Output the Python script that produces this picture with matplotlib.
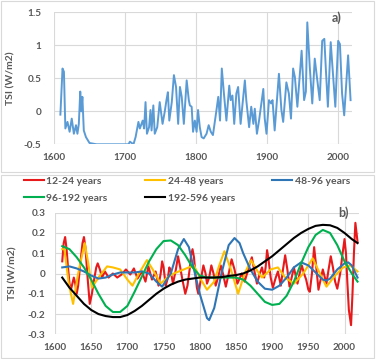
import matplotlib
matplotlib.use("Agg")
import matplotlib.pyplot as plt
from matplotlib.patches import Rectangle

plt.rcParams['font.family'] = ['Lato', 'DejaVu Sans']

# -----------------------------
# Data: panel a) TSI reconstruction
# -----------------------------
tsi_years = [1609, 1612, 1614, 1616, 1619, 1622, 1625, 1628, 1631, 1633, 1635, 1637, 1638.5, 1640,
             1642, 1645, 1650, 1660, 1680, 1705, 1707, 1712, 1715, 1719, 1721, 1725, 1727, 1729,
             1731, 1734, 1736, 1737.5, 1740, 1742, 1745.5, 1749, 1753, 1756, 1758.5, 1760.5, 1762.5,
             1766, 1769, 1772, 1775, 1777.5, 1780, 1783, 1787, 1790, 1791.5, 1794, 1796, 1798.5,
             1801, 1803, 1805.5, 1808, 1811, 1815, 1818, 1821, 1824, 1829, 1831.5, 1834, 1836.5,
             1839.5, 1843, 1847, 1849, 1851.5, 1854, 1857, 1859.5, 1863, 1869, 1871, 1875, 1878,
             1881, 1883, 1886, 1889, 1895, 1897, 1899.5, 1903, 1906, 1908, 1911, 1917, 1920.5,
             1923, 1927.5, 1931, 1934, 1937, 1939.5, 1943, 1949, 1952.5, 1955, 1957, 1960.5, 1964,
             1967.5, 1970, 1974.5, 1978, 1981, 1983, 1986, 1990, 1992.5, 1996.5, 2000.5, 2003,
             2006, 2009, 2014.5, 2018]
tsi_values = [-0.05, 0.65, 0.6, -0.26, -0.16, -0.31, -0.11, -0.34, -0.21, -0.34, -0.19, 0.30, 0.0, 0.22,
              -0.29, -0.39, -0.48, -0.5, -0.5, -0.5, -0.46, -0.5, -0.39, -0.16, -0.26, -0.14, -0.26, 0.14,
              -0.34, -0.24, 0.02, -0.29, 0.09, -0.34, -0.24, 0.14, -0.19, -0.01, 0.17, 0.29, -0.14,
              0.14, 0.55, 0.37, -0.19, 0.37, 0.22, -0.19, 0.47, 0.17, 0.09, 0.07, -0.31, -0.14,
              -0.31, 0.02, -0.24, -0.39, -0.41, -0.34, -0.21, -0.31, -0.36, 0.02, 0.22, -0.14, 0.65,
              0.27, -0.14, 0.39, 0.17, 0.24, -0.19, 0.27, 0.37, -0.19, 0.47, 0.17, -0.24, 0.07,
              -0.19, 0.04, -0.34, -0.14, 0.34, -0.11, -0.34, 0.17, 0.12, 0.17, -0.29, 0.57, 0.02,
              -0.16, 0.44, 0.27, -0.11, 0.65, 0.52, 0.07, 0.92, 0.17, 0.3, 1.35, 0.67, 0.12,
              0.8, 0.57, 0.17, 1.07, 1.1, 0.67, 0.07, 1.05, 0.67, 0.07, 1.07, 1.02,
              0.27, -0.06, 0.85, 0.17]

# -----------------------------
# Data: panel b) band components
# -----------------------------
red_years = [1610, 1612, 1614, 1616, 1618, 1620, 1622, 1624, 1626, 1628, 1630, 1632, 1635, 1638,
             1640, 1642, 1645, 1648, 1651, 1654, 1657, 1659, 1662, 1665, 1669,
             1674, 1680, 1686, 1692, 1698, 1704, 1709, 1714, 1720, 1725, 1729, 1734, 1739, 1743,
             1746, 1748, 1750, 1753, 1756, 1758, 1760, 1763, 1767, 1770, 1773, 1776, 1780, 1783,
             1786, 1788, 1790, 1792, 1794, 1796, 1798, 1801, 1805, 1808, 1810, 1813, 1816,
             1819, 1822, 1826, 1829, 1832, 1836, 1840, 1844, 1848, 1852, 1858, 1862, 1867, 1870,
             1872, 1875, 1879, 1883, 1886, 1889, 1891, 1893, 1895, 1898, 1901,
             1905, 1908, 1912, 1915, 1918, 1921, 1924, 1927, 1930, 1935, 1938, 1941, 1944, 1947,
             1950, 1952, 1955, 1958, 1961, 1964, 1967, 1970, 1975, 1978, 1981, 1984,
             1987, 1990, 1994, 1997, 2000, 2002, 2004, 2006, 2009, 2011, 2013, 2015, 2018]
red_values = [0.06, 0.15, 0.18, 0.12, 0.03, -0.05, -0.08, -0.05, -0.02, -0.05, -0.1, -0.06, 0.05, 0.15,
              0.18, 0.13, -0.02, -0.15, -0.1, -0.03, 0.03, 0.05, 0.02, -0.02, 0.01,
              -0.02, 0.0, -0.02, -0.005, 0.02, -0.005, 0.025, -0.025, 0.01, -0.04, 0.035, -0.03, 0.01, -0.06,
              0.0, 0.06, 0.03, -0.06, -0.02, 0.03, 0.01, -0.05, 0.02, 0.085, 0.03, -0.03, -0.1, -0.06,
              0.02, 0.09, 0.12, 0.08, 0.0, -0.07, -0.1, -0.04, 0.04, 0.0, -0.05, -0.02, 0.04,
              0.0, -0.06, -0.01, 0.04, 0.0, -0.065, 0.0, 0.07, 0.02, -0.05, 0.0, -0.04, 0.02, 0.06,
              0.08, 0.02, -0.05, 0.0, 0.03, -0.02, 0.03, 0.115, 0.07, -0.02, -0.07,
              -0.02, 0.01, -0.06, 0.02, 0.09, 0.02, -0.065, -0.02, 0.03, -0.05, 0.0, 0.04, 0.0, -0.03,
              -0.08, -0.09, 0.0, 0.13, 0.03, -0.08, -0.03, 0.02, -0.05, 0.02, 0.085, 0.03,
              -0.04, -0.075, 0.0, 0.09, 0.17, 0.1, -0.05, -0.18, -0.255, -0.1, 0.1, 0.25, 0.155]

orange_years = [1610, 1613, 1619, 1625, 1632, 1641, 1646, 1651, 1660, 1672, 1680, 1690, 1700, 1707,
                1716, 1727, 1735, 1746, 1755, 1764, 1778, 1792, 1800, 1810, 1820, 1826, 1834, 1843,
                1853, 1862, 1871, 1880, 1886, 1898, 1908, 1918, 1930, 1943, 1956, 1966, 1975, 1987,
                1998, 2008, 2018]
orange_values = [0.12, 0.12, -0.05, -0.15, 0.0, 0.15, 0.05, -0.07, -0.02, 0.035, 0.03, 0.02, -0.03, -0.06,
                 0.0, 0.066, 0.02, -0.05, -0.02, 0.0, 0.02, 0.04, -0.02, -0.08, -0.04, 0.03, 0.11, 0.02,
                 -0.1, 0.0, 0.066, 0.01, -0.02, 0.02, 0.03, -0.02, -0.05, 0.0, 0.075, 0.0, -0.065, -0.01,
                 0.03, 0.04, 0.01]

blue_years = [1610, 1620, 1630, 1640, 1650, 1660, 1670, 1680, 1690, 1700, 1710, 1720, 1730, 1740,
              1748, 1760, 1770, 1778, 1785, 1790, 1800, 1810, 1813, 1820, 1830, 1840, 1848, 1855,
              1860, 1870, 1880, 1890, 1900, 1910, 1920, 1930, 1940, 1950, 1960, 1970, 1975, 1980,
              1990, 2000, 2005, 2010, 2018]
blue_values = [0.03, 0.035, 0.025, 0.01, -0.01, -0.025, -0.02, -0.005, 0.005, 0.005, 0.005, 0.01, 0.0, -0.04,
               -0.065, 0.0, 0.12, 0.17, 0.13, 0.05, -0.1, -0.22, -0.23, -0.17, 0.0, 0.14, 0.175, 0.15,
               0.1, 0.02, -0.04, -0.075, -0.08, -0.06, -0.02, 0.03, 0.055, 0.04, 0.005, -0.03, -0.035, -0.025,
               0.02, 0.05, 0.055, 0.04, -0.02]

green_years = [1610, 1620, 1630, 1640, 1650, 1660, 1670, 1680, 1690, 1700, 1710, 1720, 1730, 1740,
               1750, 1760, 1770, 1780, 1790, 1800, 1810, 1820, 1830, 1840, 1850, 1860, 1870, 1880,
               1890, 1900, 1910, 1920, 1930, 1940, 1950, 1960, 1970, 1980, 1990, 2000, 2010, 2018]
green_values = [0.135, 0.12, 0.08, 0.03, -0.03, -0.1, -0.16, -0.19, -0.19, -0.16, -0.09, -0.015, 0.06, 0.12,
                0.16, 0.163, 0.14, 0.09, 0.03, -0.01, -0.02, -0.02, -0.02, -0.02, -0.02, -0.03, -0.06, -0.1,
                -0.14, -0.155, -0.15, -0.11, -0.04, 0.05, 0.13, 0.19, 0.215, 0.2, 0.14, 0.06, 0.0, -0.04]

black_years = green_years
black_values = [-0.02, -0.07, -0.11, -0.15, -0.18, -0.2, -0.21, -0.215, -0.215, -0.205, -0.185, -0.16, -0.13, -0.1,
                -0.075, -0.055, -0.04, -0.03, -0.025, -0.02, -0.02, -0.02, -0.018, -0.012, -0.008, 0.0, 0.015, 0.035,
                0.06, 0.085, 0.115, 0.145, 0.175, 0.2, 0.22, 0.235, 0.24, 0.238, 0.225, 0.2, 0.17, 0.15]

series_b = [
    ("12-24 years", red_years, red_values, "#E8191B"),
    ("24-48 years", orange_years, orange_values, "#FFC000"),
    ("48-96 years", blue_years, blue_values, "#2E75B6"),
    ("96-192 years", green_years, green_values, "#00B050"),
    ("192-596 years", black_years, black_values, "#000000"),
]

W, H = 376, 359
TXT = "#595959"
GRID = "#D9D9D9"

fig = plt.figure(figsize=(W / 100, H / 100), dpi=100)

# panel borders
for (y0, y1) in [(1, 172), (175, 358)]:
    fig.patches.append(Rectangle((1 / W, 1 - y1 / H), 373 / W, (y1 - y0) / H,
                                 transform=fig.transFigure, fill=False,
                                 edgecolor=GRID, linewidth=0.8))


def style_axes(ax, xpad, ypad):
    for s in ax.spines.values():
        s.set_visible(False)
    ax.grid(True, color=GRID, linewidth=0.8)
    ax.set_axisbelow(True)
    ax.tick_params(length=0, labelsize=7.2, colors=TXT)
    ax.tick_params(axis="x", pad=xpad)
    ax.tick_params(axis="y", pad=ypad)
    for lab in ax.get_xticklabels() + ax.get_yticklabels():
        lab.set_fontweight("bold")


# -----------------------------
# Panel a
# -----------------------------
ax1 = fig.add_axes([54 / W, 1 - 144.3 / H, (352 - 54) / W, (144.3 - 12.5) / H])
ax1.plot(tsi_years, tsi_values, color="#5B9BD5", linewidth=1.4)
ax1.set_xlim(1600, 2020)
ax1.set_ylim(-0.5, 1.5)
ax1.set_xticks([1600, 1700, 1800, 1900, 2000])
ax1.set_yticks([-0.5, 0, 0.5, 1, 1.5])
ax1.set_yticklabels(["-0.5", "0", "0.5", "1", "1.5"])
ax1.set_ylabel("TSI (W/m2)", fontsize=7.5, color=TXT, fontweight="bold")
ax1.yaxis.set_label_coords(-0.13, 0.5)
style_axes(ax1, 6, 9)
ax1.text(1999, 1.42, "a)", fontsize=9, color=TXT, fontweight="bold", ha="center", va="center")

# -----------------------------
# Panel b
# -----------------------------
ax2 = fig.add_axes([55 / W, 1 - 334.3 / H, (359 - 55) / W, (334.3 - 212.7) / H])
lines = {}
for name, xs, ys, col in series_b:
    lines[name], = ax2.plot(xs, ys, color=col, linewidth=1.5, label=name)
ax2.set_xlim(1600, 2020)
ax2.set_ylim(-0.3, 0.3)
ax2.set_xticks(list(range(1600, 2001, 50)))
ax2.set_yticks([-0.3, -0.2, -0.1, 0, 0.1, 0.2, 0.3])
ax2.set_yticklabels(["-0.3", "-0.2", "-0.1", "0", "0.1", "0.2", "0.3"])
ax2.set_ylabel("TSI (W/m2)", fontsize=7.5, color=TXT, fontweight="bold")
ax2.yaxis.set_label_coords(-0.122, 0.5)
style_axes(ax2, 6, 7)
ax2.text(1999, 0.3, "b)", fontsize=9, color=TXT, fontweight="bold", ha="center", va="center")

# legend laid out row by row like the original
order = ["12-24 years", "96-192 years", "24-48 years", "192-596 years", "48-96 years"]
leg = fig.legend([lines[n] for n in order], order, loc="upper left",
                 bbox_to_anchor=(24 / W, 1 - 176.5 / H), ncol=3, frameon=False,
                 fontsize=7.5, handlelength=1.9, handletextpad=0.25, columnspacing=3.6,
                 borderpad=0, borderaxespad=0, labelspacing=0.75)
for t in leg.get_texts():
    t.set_color(TXT)
    t.set_fontweight("bold")

fig.savefig("out.png", dpi=100)
